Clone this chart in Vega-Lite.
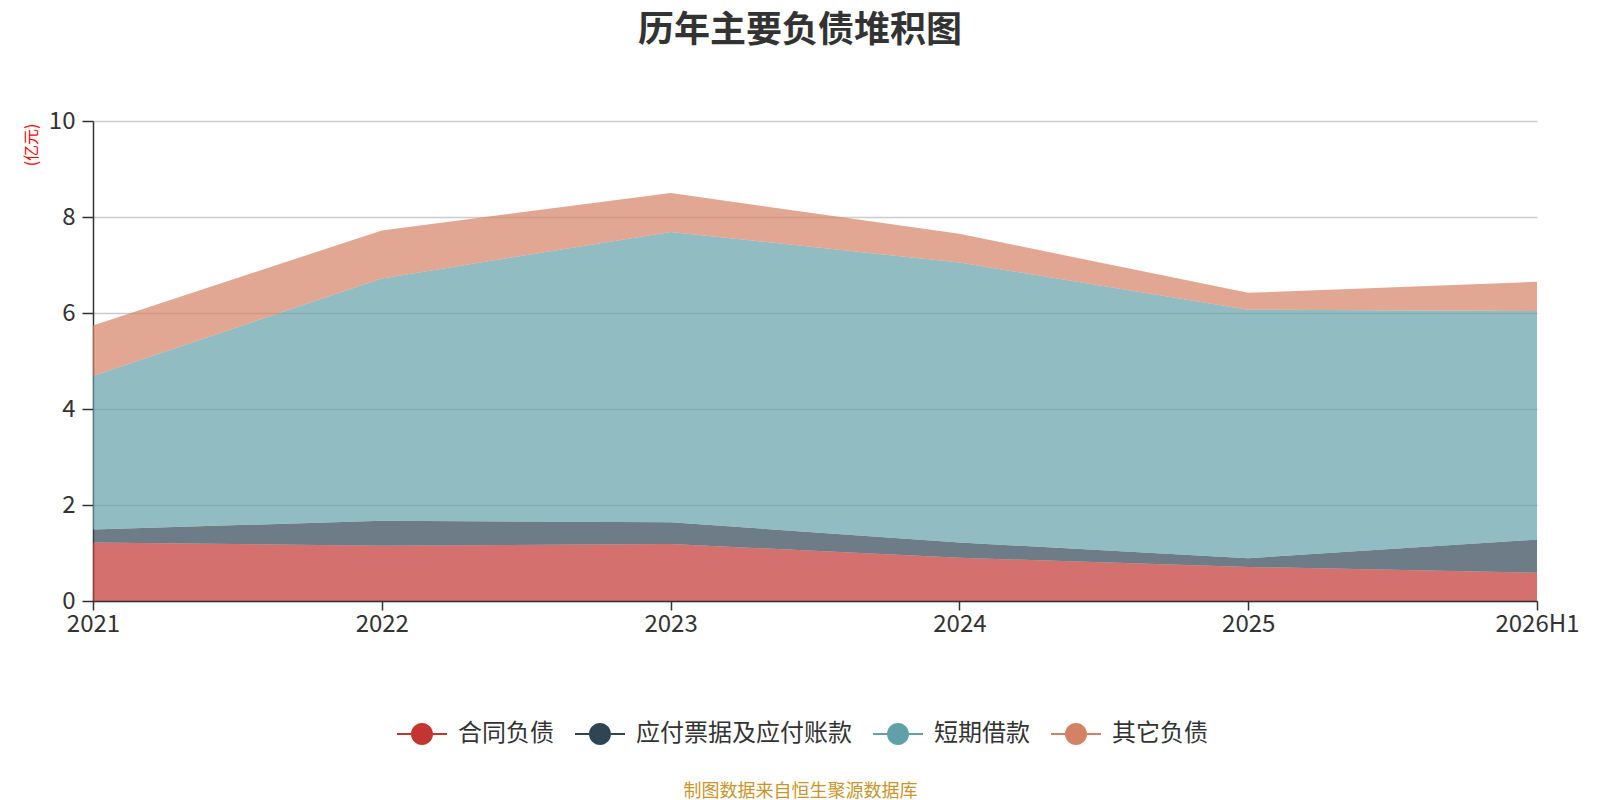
{
  "$schema": "https://vega.github.io/schema/vega-lite/v6.json",
  "autosize": {"type": "none"},
  "padding": {"left": 93, "top": 121, "right": 63, "bottom": 199},
  "width": 1444,
  "height": 480,
  "background": "white",
  "config": {"view": {"stroke": null}},
  "title": {
    "text": "历年主要负债堆积图",
    "font": "Noto Sans CJK SC",
    "fontSize": 36,
    "fontWeight": "bold",
    "color": "#333333",
    "anchor": "middle",
    "dx": -15,
    "offset": 59
  },
  "data": {
    "values": [
      {"year": "2021", "item": "合同负债", "value": 1.22},
      {"year": "2021", "item": "应付票据及应付账款", "value": 0.27},
      {"year": "2021", "item": "短期借款", "value": 3.2},
      {"year": "2021", "item": "其它负债", "value": 1.05},
      {"year": "2022", "item": "合同负债", "value": 1.15},
      {"year": "2022", "item": "应付票据及应付账款", "value": 0.52},
      {"year": "2022", "item": "短期借款", "value": 5.05},
      {"year": "2022", "item": "其它负债", "value": 1.0},
      {"year": "2023", "item": "合同负债", "value": 1.19},
      {"year": "2023", "item": "应付票据及应付账款", "value": 0.45},
      {"year": "2023", "item": "短期借款", "value": 6.05},
      {"year": "2023", "item": "其它负债", "value": 0.81},
      {"year": "2024", "item": "合同负债", "value": 0.9},
      {"year": "2024", "item": "应付票据及应付账款", "value": 0.32},
      {"year": "2024", "item": "短期借款", "value": 5.83},
      {"year": "2024", "item": "其它负债", "value": 0.6},
      {"year": "2025", "item": "合同负债", "value": 0.71},
      {"year": "2025", "item": "应付票据及应付账款", "value": 0.18},
      {"year": "2025", "item": "短期借款", "value": 5.18},
      {"year": "2025", "item": "其它负债", "value": 0.35},
      {"year": "2026H1", "item": "合同负债", "value": 0.59},
      {"year": "2026H1", "item": "应付票据及应付账款", "value": 0.69},
      {"year": "2026H1", "item": "短期借款", "value": 4.76},
      {"year": "2026H1", "item": "其它负债", "value": 0.61}
    ]
  },
  "transform": [
    {"calculate": "indexof(['合同负债', '应付票据及应付账款', '短期借款', '其它负债'], datum.item)", "as": "stackOrder"}
  ],
  "mark": {"type": "area", "fillOpacity": 0.7, "interpolate": "linear"},
  "encoding": {
    "x": {
      "field": "year",
      "type": "ordinal",
      "scale": {"type": "point", "padding": 0},
      "axis": {
        "title": "制图数据来自恒生聚源数据库",
        "titleFont": "Noto Sans CJK SC",
        "titleFontSize": 18,
        "titleFontWeight": "normal",
        "titleColor": "#c8952b",
        "titleX": 707,
        "titleY": 190,
        "titleBaseline": "middle",
        "titleAnchor": "middle",
        "labelAngle": 0,
        "labelFont": "Noto Sans CJK SC",
        "labelFontSize": 24,
        "labelColor": "#333333",
        "labelPadding": 2,
        "tickSize": 9,
        "tickColor": "#333333",
        "tickWidth": 1.5,
        "domainColor": "#333333",
        "domainWidth": 1.5,
        "grid": false,
        "zindex": 1
      }
    },
    "y": {
      "field": "value",
      "type": "quantitative",
      "stack": "zero",
      "scale": {"domain": [0, 10], "nice": false},
      "axis": {
        "values": [0, 2, 4, 6, 8, 10],
        "title": "(亿元)",
        "titleFont": "Noto Sans CJK SC",
        "titleFontSize": 16,
        "titleFontWeight": "normal",
        "titleColor": "#ff0000",
        "titleAngle": 270,
        "titleX": -62,
        "titleY": 2,
        "titleAlign": "right",
        "titleBaseline": "middle",
        "labelFont": "Noto Sans CJK SC",
        "labelFontSize": 24,
        "labelColor": "#333333",
        "labelPadding": 7,
        "tickSize": 11,
        "tickColor": "#333333",
        "tickWidth": 1.5,
        "domainColor": "#333333",
        "domainWidth": 1.5,
        "gridColor": "#cccccc",
        "gridWidth": 1.5,
        "zindex": 0
      }
    },
    "order": {"field": "stackOrder", "type": "quantitative", "sort": "ascending"},
    "color": {
      "field": "item",
      "type": "nominal",
      "sort": ["合同负债", "应付票据及应付账款", "短期借款", "其它负债"],
      "scale": {
        "domain": ["合同负债", "应付票据及应付账款", "短期借款", "其它负债"],
        "range": ["#c23531", "#2f4554", "#61a0a8", "#d48265"]
      },
      "legend": {
        "title": null,
        "orient": "none",
        "direction": "horizontal",
        "legendX": 304,
        "legendY": 588,
        "symbolType": "M-1,-0.04H-0.44V0.04H-1Z M0.44,-0.04H1V0.04H0.44Z M0.44,0A0.44,0.44,0,1,1,-0.44,0A0.44,0.44,0,1,1,0.44,0Z",
        "symbolSize": 2500,
        "symbolOpacity": 1,
        "symbolStrokeWidth": 0,
        "labelFont": "Noto Sans CJK SC",
        "labelFontSize": 24,
        "labelColor": "#333333",
        "labelOffset": 11,
        "columnPadding": 21,
        "labelLimit": 400
      }
    }
  }
}
